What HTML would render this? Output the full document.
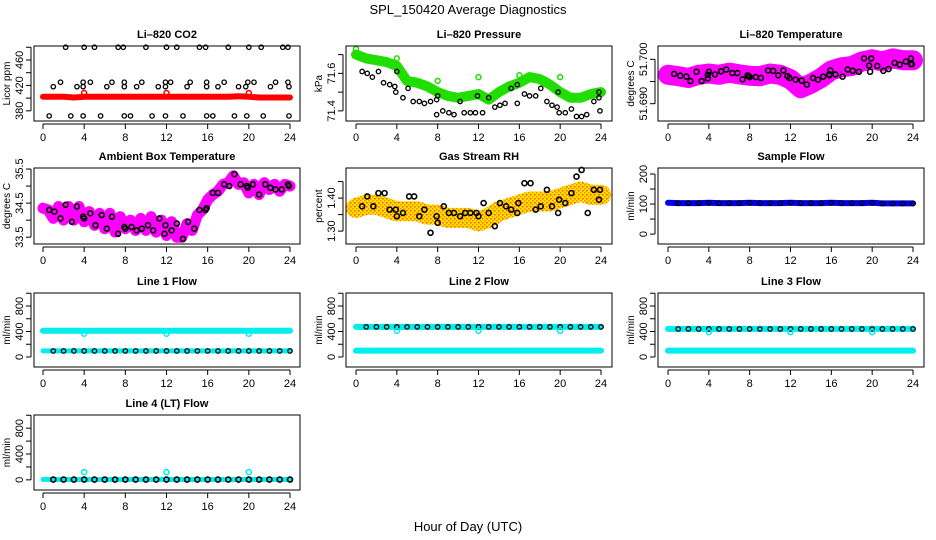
<!DOCTYPE html>
<html><head><meta charset="utf-8">
<style>
html,body{margin:0;padding:0;background:#fff;}
svg{display:block;font-family:"Liberation Sans",sans-serif;}
</style></head>
<body>
<svg id="c" width="936" height="540" viewBox="0 0 936 540" xmlns="http://www.w3.org/2000/svg">
<defs>
<pattern id="rhpat" width="4" height="4" patternUnits="userSpaceOnUse">
<rect width="4" height="4" fill="#ffe000"/><rect width="1.5" height="1.5" fill="#ff8800"/><rect x="2" y="2" width="1.5" height="1.5" fill="#ff5000"/>
</pattern>
</defs>
<text x="468" y="14" text-anchor="middle" font-size="13">SPL_150420  Average Diagnostics</text>
<text x="468" y="531" text-anchor="middle" font-size="13">Hour of Day (UTC)</text>
</svg>
<script>
// ---- data ----
const hours = [0,1,2,3,4,5,6,7,8,9,10,11,12,13,14,15,16,17,18,19,20,21,22,23,24];
const xTicks = [0,4,8,12,16,20,24];
// CO2
const co2Red = [402,402,402,401,402,402,402,402,402,402,402,402,402,402,402,402,402,402,402,403,402,401,401,401,401];
const co2OutH = [4,12,20];
const co2OutV = [408,408,408];
const co2BlackH = [2.2,4,5,7.3,7.8,10,12,13,15.2,15.8,18,20,21.2,23.3,23.8, 1.7,3.9,4.6,6.7,7.9,9.6,11.9,12.4,14.3,15.9,17.6,19.9,20.5,22.6,23.8, 1,3.3,3.9,6.2,7.9,9.1,11.2,11.9,14,15.9,17,19,19.7,22.1,23.9, 0.6,2.7,3.9,5.6,7.9,8.5,10.6,11.9,13.6,15.9,16.5,18.6,19.8,21.4,23.9];
const co2BlackV = [480,480,480,480,480,480,480,480,480,480,480,480,480,480,480, 425,425,425,425,425,425,425,425,425,425,425,425,425,425,425, 418,418,418,418,418,418,418,418,418,418,418,418,418,418,418, 372,372,372,372,372,372,372,372,372,372,372,372,372,372,372];
// Pressure
const presGreen = [71.70,71.68,71.67,71.66,71.64,71.56,71.55,71.53,71.50,71.48,71.47,71.48,71.49,71.46,71.50,71.53,71.55,71.58,71.57,71.54,71.50,71.47,71.47,71.49,71.50];
const presOutH = [0,4,8,12,16,20];
const presOutV = [71.73,71.68,71.56,71.58,71.59,71.58];
const presBlackH = [0.6,1.1,1.6,2.2,2.7,3.3,3.8,3.9,4,4.6,5.1,5.6,6.2,6.7,7.3,7.9,7.9,8,8.5,9.1,9.6,10.2,10.6,11.2,11.7,11.9,12.4,13,13.6,14.1,14.6,15.2,15.8,15.8,16.5,17,17.6,18.1,18.7,19.2,19.7,19.8,19.9,20.5,21.1,21.6,22.1,22.6,23.3,23.8,23.8,23.9];
const presBlackV = [71.61,71.60,71.58,71.61,71.55,71.54,71.53,71.50,71.61,71.47,71.52,71.45,71.45,71.44,71.45,71.46,71.38,71.48,71.40,71.39,71.38,71.45,71.39,71.39,71.39,71.48,71.39,71.47,71.42,71.43,71.44,71.52,71.54,71.44,71.49,71.48,71.48,71.52,71.45,71.43,71.42,71.50,71.39,71.39,71.41,71.37,71.37,71.38,71.45,71.47,71.50,71.40];
// Li-820 temperature
const tempMag = [51.6965,51.6962,51.6958,51.6965,51.6968,51.6965,51.6970,51.6966,51.6963,51.6962,51.6968,51.6965,51.6955,51.6935,51.6945,51.6958,51.6975,51.6982,51.6985,51.6995,51.7000,51.6995,51.7002,51.6998,51.6998];
const tempBlackH = [0.6,1.2,1.8,2.2,2.8,3.3,3.9,3.9,4,4.6,5.2,5.7,6.3,6.8,7.3,7.8,7.9,8,8.6,9.1,9.8,10.3,10.8,11.3,11.7,11.9,12.5,13.1,13.6,14.2,14.7,15.2,15.8,15.8,15.9,16.4,17.1,17.6,18.1,18.7,19.2,19.7,19.8,19.9,20.5,21.1,21.6,22.2,22.7,23.3,23.8,23.8,23.9];
const tempBlackV = [51.6967,51.6963,51.6961,51.6951,51.6972,51.6951,51.6965,51.6957,51.6972,51.6966,51.6973,51.6977,51.6969,51.6969,51.6955,51.6964,51.6962,51.6960,51.6960,51.6958,51.6975,51.6974,51.6964,51.6975,51.6962,51.6958,51.6954,51.6952,51.6943,51.6958,51.6954,51.6961,51.6966,51.6964,51.6975,51.6966,51.6961,51.6977,51.6974,51.6972,51.7002,51.6986,51.6972,51.7002,51.6985,51.6974,51.6978,51.6992,51.6988,51.6995,51.7002,51.6989,51.6989];
// Ambient box temperature
const ambH = [0,0.5,1,1.5,2,2.5,3,3.5,4,4.5,5,5.5,6,6.5,7,7.5,8,8.5,9,9.5,10,10.5,11,11.5,12,12.5,13,13.5,14,14.5,15,15.5,16,16.5,17,17.5,18,18.5,19,19.5,20,20.5,21,21.5,22,22.5,23,23.5,24];
const ambV = [34.35,34.3,34.05,34.4,34.0,34.4,34.0,34.4,33.95,34.25,33.85,34.2,33.75,34.2,33.65,34.1,33.75,34.0,33.7,34.05,33.7,34.1,33.65,34.0,33.55,33.95,33.5,33.5,33.9,33.7,34.15,34.3,34.6,34.75,34.85,35.05,35.1,35.3,35.05,35.1,34.8,35.05,34.75,35.1,34.9,35.05,34.85,35.05,35.0];
const ambBlackH = [0.6,1.1,1.7,2.2,2.8,3.3,3.9,4,4.6,5.1,5.7,6.2,6.7,7.3,7.9,8,8.6,9.1,9.6,10.2,10.7,11.3,11.8,11.9,12.5,13,13.6,14.1,14.7,15.2,15.8,15.9,16.5,17,17.6,18.1,18.6,19.2,19.8,19.9,20.4,21,21.6,22.1,22.6,23.2,23.8,23.9];
const ambBlackV = [34.3,34.25,34.05,34.45,33.95,34.4,34.1,34.05,34.2,33.85,34.15,33.75,34.1,33.6,33.8,33.75,33.8,33.7,33.75,33.85,33.7,34.05,33.6,33.85,33.7,33.9,33.45,33.95,33.75,34.3,34.3,34.35,34.8,34.8,35.05,35.0,35.35,35.05,35.0,34.95,35.05,34.75,35.05,34.95,34.9,34.9,35.05,35.0];
// Gas stream RH
const rhV = [1.37,1.38,1.38,1.37,1.36,1.36,1.36,1.35,1.35,1.34,1.34,1.34,1.33,1.34,1.36,1.37,1.38,1.39,1.39,1.39,1.40,1.41,1.42,1.41,1.41];
const rhBlackH = [0.6,1.1,1.7,2.2,2.8,3.3,3.9,4,4.6,5.2,5.7,6.2,6.7,7.3,7.9,8,8.6,9.1,9.6,10.2,10.7,11.2,11.8,12,12.5,13,13.6,14.1,14.7,15.2,15.8,15.9,16.5,17.1,17.6,18.1,18.7,19.2,19.8,19.9,20.5,21.1,21.6,22.1,22.7,23.3,23.8,23.9];
const rhBlackV = [1.375,1.405,1.375,1.415,1.415,1.365,1.365,1.345,1.355,1.405,1.405,1.345,1.365,1.295,1.345,1.325,1.375,1.355,1.355,1.345,1.355,1.355,1.355,1.345,1.385,1.355,1.315,1.385,1.375,1.365,1.355,1.385,1.445,1.445,1.365,1.375,1.425,1.375,1.355,1.395,1.385,1.415,1.465,1.485,1.355,1.425,1.395,1.425];
// Flows
const sampleFlow = [104,103,103,103,104,103,103,103,104,103,103,103,104,103,103,103,104,103,103,103,104,102,102,102,102];
const l1Hi = [412,412,412,412,412,412,412,412,412,412,412,412,412,412,412,412,412,412,412,412,412,412,412,412,412];
const l1Lo = [95,95,95,95,95,95,95,95,95,95,95,95,95,95,95,95,95,95,95,95,95,95,95,95,95];
const l2Hi = [472,472,472,472,472,472,472,472,472,472,472,472,472,472,472,472,472,472,472,472,472,472,472,472,472];
const l2Lo = [100,100,100,100,100,100,100,100,100,100,100,100,100,100,100,100,100,100,100,100,100,100,100,100,100];
const l3Hi = [440,440,440,440,440,440,440,440,440,440,440,440,440,440,440,440,440,440,440,440,440,440,440,440,440];
const l3Lo = [100,100,100,100,100,100,100,100,100,100,100,100,100,100,100,100,100,100,100,100,100,100,100,100,100];
const l4Lo = [5,5,5,5,5,5,5,5,5,5,5,5,5,5,5,5,5,5,5,5,5,5,5,5,5];
const outHours = [4,12,20];
const l1Out = [365,365,365];
const l2Out = [410,410,410];
const l3Out = [390,390,390];
const l4Out = [120,120,120];
const flowTicks = [0,200,400,600,800,1000];
const flowLabels = [0,400,800];

// ---- layout ----
const NS = "http://www.w3.org/2000/svg";
const svg = document.getElementById('c');
const cols = [{l:34,r:300,x0:43,x24:290},{l:346,r:612,x0:356,x24:601},{l:658,r:924,x0:668,x24:913}];
const rows = [{t:46,b:121},{t:168,b:244},{t:293,b:367},{t:415,b:490}];
function mk(tag, attrs, parent){const e=document.createElementNS(NS,tag);for(const k in attrs)e.setAttribute(k,attrs[k]);(parent||svg).appendChild(e);return e;}

function panel(ci, ri, name, title, ylab, ymin, ymax, ticks, labels){
  const C=cols[ci], R=rows[ri];
  const g=mk('g',{});
  
  
  const sx=v=>C.x0+v/24*(C.x24-C.x0);
  const sy=v=>R.b-(v-ymin)/(ymax-ymin)*(R.b-R.t);
  const data=mk('g',{},g);
  
  
  const box=mk('rect',{x:C.l,y:R.t,width:C.r-C.l,height:R.b-R.t,fill:'none',stroke:'#000','stroke-width':1},g);
  
  
  const t=mk('text',{x:(C.l+C.r)/2,y:R.t-8,'text-anchor':'middle','font-size':11,'font-weight':'bold'},g);
  t.textContent=title;
  
  
  const xa=mk('g',{},g);
  
  
  const yb=R.b+3;
  mk('line',{x1:sx(0),x2:sx(24),y1:yb,y2:yb,stroke:'#000'},xa);
  xTicks.forEach(v=>{
    mk('line',{x1:sx(v),x2:sx(v),y1:yb,y2:yb+5,stroke:'#000'},xa);
    const l=mk('text',{x:sx(v),y:yb+17,'text-anchor':'middle','font-size':11},xa);
    l.textContent=v;
  });
  const ya=mk('g',{},g);
  
  
  const xl=C.l-3;
  mk('line',{x1:xl,x2:xl,y1:sy(ticks[0]),y2:sy(ticks[ticks.length-1]),stroke:'#000'},ya);
  ticks.forEach(v=>mk('line',{x1:xl,x2:xl-5,y1:sy(v),y2:sy(v),stroke:'#000'},ya));
  labels.forEach(v=>{
    const lx=xl-8, ly=sy(v);
    const l=mk('text',{x:lx,y:ly,'text-anchor':'middle','font-size':11,transform:`rotate(-90 ${lx} ${ly})`},ya);
    l.textContent=v;
  });
  const yx=C.l-24, yy=(R.t+R.b)/2;
  const yt=mk('text',{x:yx,y:yy,'text-anchor':'middle','font-size':10,transform:`rotate(-90 ${yx} ${yy})`},g);
  yt.textContent=ylab;
  
  
  return {sx,sy,g:data};
}
function pts(p, xs, ys, color, r, sw, nm){
  const g=mk('g',{},p.g);
  
  
  xs.forEach((h,i)=>{
    const c=mk('circle',{cx:p.sx(h),cy:p.sy(ys[i]),r:r,fill:'none',stroke:color,'stroke-width':sw},g);
    
  });
}
function band(p, xs, ys, color, w, nm){
  const d=xs.map((h,i)=>(i?'L':'M')+p.sx(h).toFixed(1)+' '+p.sy(ys[i]).toFixed(1)).join(' ');
  const e=mk('path',{d:d,fill:'none',stroke:color,'stroke-width':w,'stroke-linejoin':'round','stroke-linecap':'round'},p.g);
  
  
}

// CO2
let p=panel(0,0,'co2-panel','Li\u2013820 CO2','Licor ppm',364,482,[380,400,420,440,460,480],[380,420,460]);
band(p,hours,co2Red,'#ff0000',6,'co2-red-series');
pts(p,co2OutH,co2OutV,'#ff0000',2.5,1.5,'co2-red-outliers');
pts(p,co2BlackH,co2BlackV,'#000',2.2,1.3,'co2-black-series');
// Pressure
p=panel(1,0,'pressure-panel','Li\u2013820 Pressure','kPa',71.346,71.746,[71.4,71.5,71.6,71.7],[71.4,71.6]);
band(p,hours,presGreen,'#22dd00',10,'pressure-green-series');
pts(p,presOutH,presOutV,'#22dd00',2.5,1.5,'pressure-green-outliers');
pts(p,presBlackH,presBlackV,'#000',2.2,1.3,'pressure-black-series');
// Li temp
p=panel(2,0,'li820-temp-panel','Li\u2013820 Temperature','degrees C',51.6861,51.703,[51.690,51.695,51.700],['51.690','51.700']);
band(p,hours,tempMag,'#ff00ff',20,'li820-temp-magenta-series');
pts(p,tempBlackH,tempBlackV,'#000',2.5,1.6,'li820-temp-black-series');
// Ambient
p=panel(0,1,'ambient-temp-panel','Ambient Box Temperature','degrees C',33.3,35.53,[33.5,34,34.5,35,35.5],['33.5','34.5','35.5']);
band(p,ambH,ambV,'#ff00ff',11,'ambient-magenta-series');
pts(p,ambBlackH,ambBlackV,'#000',2.5,1.6,'ambient-black-series');
// RH
p=panel(1,1,'rh-panel','Gas Stream RH','percent',1.261,1.491,[1.30,1.35,1.40,1.45],['1.30','1.40']);
band(p,hours,rhV,'url(#rhpat)',20,'rh-orange-series');
pts(p,rhBlackH,rhBlackV,'#000',2.5,1.6,'rh-black-series');
// Sample flow
p=panel(2,1,'sample-flow-panel','Sample Flow','ml/min',-33,220,[0,50,100,150,200],[0,100,200]);
band(p,hours,sampleFlow,'#0000ee',6,'sample-flow-blue-series');
pts(p,hours.slice(1),sampleFlow.slice(1),'#000',2.2,1.3,'sample-flow-black-series');
// Line 1
p=panel(0,2,'line1-flow-panel','Line 1 Flow','ml/min',-157,1004,flowTicks,flowLabels);
band(p,hours,l1Hi,'#00eeee',6,'line1-cyan-high');
band(p,hours,l1Lo,'#00eeee',5,'line1-cyan-low');
pts(p,hours.slice(1),l1Lo.slice(1),'#000',2.2,1.3,'line1-black-series');
pts(p,outHours,l1Out,'#00eeee',2.5,1.5,'line1-outliers');
// Line 2
p=panel(1,2,'line2-flow-panel','Line 2 Flow','ml/min',-157,1004,flowTicks,flowLabels);
band(p,hours,l2Hi,'#00eeee',6,'line2-cyan-high');
band(p,hours,l2Lo,'#00eeee',6,'line2-cyan-low');
pts(p,hours.slice(1),l2Hi.slice(1),'#000',2.2,1.3,'line2-black-series');
pts(p,outHours,l2Out,'#00eeee',2.5,1.5,'line2-outliers');
// Line 3
p=panel(2,2,'line3-flow-panel','Line 3 Flow','ml/min',-157,1004,flowTicks,flowLabels);
band(p,hours,l3Hi,'#00eeee',6,'line3-cyan-high');
band(p,hours,l3Lo,'#00eeee',6,'line3-cyan-low');
pts(p,hours.slice(1),l3Hi.slice(1),'#000',2.2,1.3,'line3-black-series');
pts(p,outHours,l3Out,'#00eeee',2.5,1.5,'line3-outliers');
// Line 4
p=panel(0,3,'line4-flow-panel','Line 4 (LT) Flow','ml/min',-157,1004,flowTicks,flowLabels);
band(p,hours,l4Lo,'#00eeee',5,'line4-cyan-series');
pts(p,hours.slice(1),l4Lo.slice(1),'#000',2.5,1.6,'line4-black-series');
pts(p,outHours,l4Out,'#00eeee',2.5,1.5,'line4-outliers');
</script>
</body></html>
